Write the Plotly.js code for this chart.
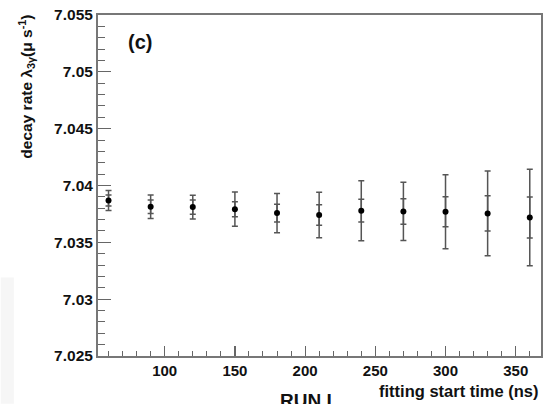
<!DOCTYPE html>
<html>
<head>
<meta charset="utf-8">
<script src="https://cdn.plot.ly/plotly-3.0.1.min.js"></script>
<style>html,body{margin:0;padding:0;background:#fff;}#chart{width:552px;height:404px;}</style>
</head>
<body>
<div id="chart"></div>
<script>
// fitting start time (ns)
const startTimes = [60, 90, 120, 150, 180, 210, 240, 270, 300, 330, 360];
// decay rate (us^-1)
const decayRate = [7.03868, 7.03813, 7.03810, 7.03792, 7.03757, 7.03740, 7.03778, 7.03772, 7.03769, 7.03754, 7.03719];
// total (outer) errors
const totalErr = [0.00088, 0.00104, 0.00105, 0.00150, 0.00172, 0.00200, 0.00263, 0.00256, 0.00325, 0.00373, 0.00424];
// inner (statistical) errors
const statErr = [0.00048, 0.00060, 0.00062, 0.00066, 0.00078, 0.00090, 0.00100, 0.00112, 0.00133, 0.00155, 0.00180];
const yTickVals = [7.025, 7.03, 7.035, 7.04, 7.045, 7.05, 7.055];
const yTickText = ["7.025", "7.03", "7.035", "7.04", "7.045", "7.05", "7.055"];
const xTickVals = [100, 150, 200, 250, 300, 350];
const xTickText = ["100", "150", "200", "250", "300", "350"];

const F = 'Liberation Sans, Arial, sans-serif';
const errColor = '#555555';

const traces = [
  {
    x: startTimes, y: decayRate, type: 'scatter', mode: 'markers',
    marker: {color: 'rgba(0,0,0,0)', size: 1},
    error_y: {type: 'data', array: totalErr, visible: true, color: errColor, thickness: 1.5, width: 3},
    hoverinfo: 'skip', showlegend: false
  },
  {
    x: startTimes, y: decayRate, type: 'scatter', mode: 'markers',
    marker: {color: '#000', size: 6},
    error_y: {type: 'data', array: statErr, visible: true, color: errColor, thickness: 1.5, width: 3},
    hoverinfo: 'skip', showlegend: false
  }
];

const layout = {
  width: 552, height: 404,
  margin: {l: 97.5, r: 10.5, t: 15, b: 47.5},
  paper_bgcolor: '#fff', plot_bgcolor: '#fff',
  showlegend: false,
  xaxis: {
    range: [52.5, 368], showgrid: false, zeroline: false,
    showline: true, linecolor: '#777', linewidth: 2, mirror: true,
    ticks: 'inside', ticklen: 10, tickcolor: '#666', tickwidth: 1.2,
    tickvals: xTickVals, ticktext: xTickText,
    minor: {dtick: 10, tick0: 0, ticks: 'inside', ticklen: 5, tickcolor: '#666', tickwidth: 1, showgrid: false},
    tickfont: {family: F, size: 15, color: '#111', weight: 'bold'}
  },
  yaxis: {
    range: [7.025, 7.055], showgrid: false, zeroline: false,
    showline: true, linecolor: '#777', linewidth: 2, mirror: true,
    ticks: 'inside', ticklen: 13, tickcolor: '#666', tickwidth: 1.2,
    tickvals: yTickVals, ticktext: yTickText,
    minor: {dtick: 0.001, tick0: 7.025, ticks: 'inside', ticklen: 7, tickcolor: '#666', tickwidth: 1, showgrid: false},
    tickfont: {family: F, size: 15.5, color: '#111', weight: 'bold'}
  },
  shapes: [
    {type: 'rect', xref: 'paper', yref: 'paper', x0: -0.2196, x1: -0.19, y0: -0.14, y1: 0.23,
     fillcolor: '#f6f6f6', line: {width: 0}, layer: 'below'}
  ],
  annotations: [
    {text: 'decay rate λ<sub>3γ</sub>(μ s<sup>-1</sup>)', xref: 'paper', yref: 'paper',
     x: -0.1610, y: 1.006, xanchor: 'center', yanchor: 'top', textangle: -90, showarrow: false,
     font: {family: F, size: 15.5, color: '#111', weight: 'bold'}},
    {text: '(c)', xref: 'paper', yref: 'paper', x: 0.064, y: 0.921, xanchor: 'left', yanchor: 'middle',
     showarrow: false, font: {family: F, size: 20, color: '#111', weight: 'bold'}},
    {text: 'fitting start time (ns)', xref: 'paper', yref: 'paper', x: 1.0, y: -0.104, xanchor: 'right', yanchor: 'middle',
     showarrow: false, font: {family: F, size: 16.5, color: '#111', weight: 'bold'}},
    {text: 'RUN I', xref: 'paper', yref: 'paper', x: 0.4696, y: -0.095, xanchor: 'center', yanchor: 'top',
     showarrow: false, font: {family: F, size: 19, color: '#111', weight: 'bold'}}
  ]
};

Plotly.newPlot('chart', traces, layout, {staticPlot: true, displayModeBar: false});
</script>
</body>
</html>
